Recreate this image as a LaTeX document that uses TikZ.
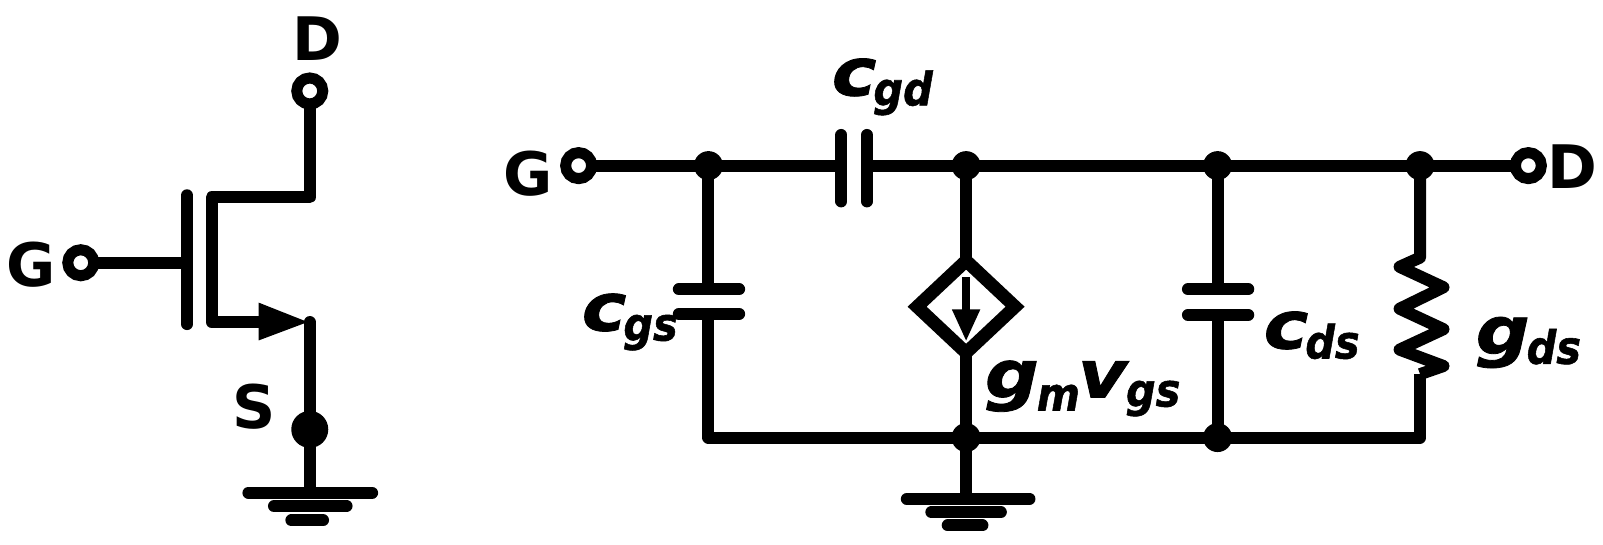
\documentclass[tikz,border=0pt]{standalone}
\usepackage{fontspec}
\setmainfont{DejaVu Sans}
\newfontfamily\lblf[FakeBold=1.2]{DejaVu Sans Bold Oblique}
\usetikzlibrary{arrows.meta,shapes.geometric}
\newcommand{\mainch}[1]{\scalebox{1.14}[1]{\fontsize{66}{66}\selectfont #1}}
\newcommand{\subch}[2]{\raisebox{#1}{\scalebox{0.9}[1]{\fontsize{46}{46}\selectfont #2}}}
\newcommand{\mylbl}[2]{\mainch{#1}\kern-3pt\subch{-10pt}{#2}}
\tikzset{
  wire/.style={line width=12pt,line cap=butt,line join=round},
  plate/.style={line width=12pt,line cap=round},
  term/.style={circle,draw,line width=11pt,fill=white,minimum size=26pt,inner sep=0pt,outer sep=0pt},
  junc/.style={circle,fill=black,minimum size=29pt,inner sep=0pt,outer sep=0pt},
  bigdot/.style={circle,fill=black,minimum size=37pt,inner sep=0pt,outer sep=0pt},
  pin/.style={font=\fontsize{60}{60}\selectfont\bfseries,inner sep=0pt},
  lab/.style={font=\lblf,inner sep=0pt},
}
\begin{document}
\begin{tikzpicture}[x=1.0223pt,y=-1.0223pt]
\useasboundingbox (0,0) rectangle (1568,533);
% --- MOSFET ---
\node[term] (tD) at (303,89) {};
\node[term] (tG) at (79,257) {};
\node[bigdot] (tS) at (303,420) {};
\node[pin] (lD) at (310,38) {D};
\node[pin] (lG) at (30,259) {G};
\node[pin] (lS) at (249,398) {S};
\coordinate (cornerD) at (303,193);
\coordinate (chTop) at (207,193);
\coordinate (chBot) at (207,315);
\coordinate (arrBase) at (260,315);
\coordinate (srcTip) at (301,315);
\coordinate (srcTop) at (303,315);
\coordinate (gateIn) at (183,257);
\coordinate (gA) at (183,191);
\coordinate (gB) at (183,317);
\coordinate (gnd) at (303,482);
\draw[wire] (tD) -- (cornerD) -- (chTop) -- (chBot) -- (arrBase);
\fill (253,296) -- (srcTip) -- (253,333) -- cycle;
\draw[wire,line cap=round] (srcTop) -- (tS.center) -- (gnd);
\draw[plate] (gA) -- (gB);
\draw[wire] (tG) -- (gateIn);
\draw[plate] (243,482) -- (364,482);
\draw[plate] (268,495) -- (339,495);
\draw[plate] (285,509) -- (316,509);
% --- small-signal model ---
\node[term] (tG2) at (566,162) {};
\node[term] (tD2) at (1495,162) {};
\node[pin] (lG2) at (517,170) {G};
\node[pin] (lD2) at (1538,163) {D};
\node[junc] (n1) at (693,162) {};
\node[junc] (n2) at (945,162) {};
\node[junc] (n3) at (1191,162) {};
\node[junc] (n4) at (1389,162) {};
\node[junc] (b2) at (945,428) {};
\node[junc] (b3) at (1191,428) {};
\coordinate (b1) at (693,428);
\coordinate (b4) at (1389,428);
\coordinate (gnd2) at (945,488);
% top wire with Cgd
\coordinate (cgdL) at (823,162);
\coordinate (cgdR) at (848,162);
\draw[wire] (tG2) -- (n1.center) -- (cgdL);
\draw[wire] (cgdR) -- (n2.center) -- (n3.center) -- (n4.center) -- (tD2);
\draw[plate] (823,132) -- (823,197);
\draw[plate] (848,132) -- (848,197);
% Cgs
\coordinate (cgsT) at (693,283);
\coordinate (cgsB) at (693,307);
\draw[wire] (n1.center) -- (cgsT);
\draw[wire] (cgsB) -- (b1) -- (b2.center) -- (b3.center) -- (b4) -- (1389,366);
\draw[plate] (664,283) -- (723,283);
\draw[plate] (664,307) -- (723,307);
% Cds
\coordinate (cdsT) at (1191,283);
\coordinate (cdsB) at (1191,308);
\draw[wire] (n3.center) -- (cdsT);
\draw[wire] (cdsB) -- (b3.center);
\draw[plate] (1162,283) -- (1221,283);
\draw[plate] (1162,308) -- (1221,308);
% resistor
\draw[wire] (n4.center) -- (1389,252) -- (1369,261) -- (1412,281) -- (1369,302) -- (1412,322) -- (1369,342) -- (1412,358) -- (1389,366);
% dependent source
\node[diamond,draw,line width=13pt,minimum width=98pt,minimum height=92pt,aspect=1,inner sep=0pt,outer sep=0pt] (src) at (945,300) {};
\draw[wire] (n2.center) -- (src.north);
\draw[wire] (src.south) -- (b2.center) -- (gnd2);
\draw[line width=7.5pt,-{Triangle[length=32pt,width=26pt]}] (945,271) -- (945,334);
\draw[plate] (887,488) -- (1007,488);
\draw[plate] (911,501) -- (979,501);
\draw[plate] (927,514) -- (961,514);
% labels
\node[lab] (lgd) at (863,85) {\mylbl{c}{gd}};
\node[lab] (lgs) at (616,315) {\mylbl{c}{gs}};
\node[lab] (lds) at (1283,328) {\mylbl{c}{ds}};
\node[lab] (lgds) at (1495,335) {\mylbl{g}{ds}};
\node[lab] (lgm) at (1059,380) {\mainch{g}\kern-2pt\subch{-13pt}{m}\kern-2pt\mainch{v}\kern-1pt\subch{-9pt}{gs}};
\end{tikzpicture}
\end{document}
